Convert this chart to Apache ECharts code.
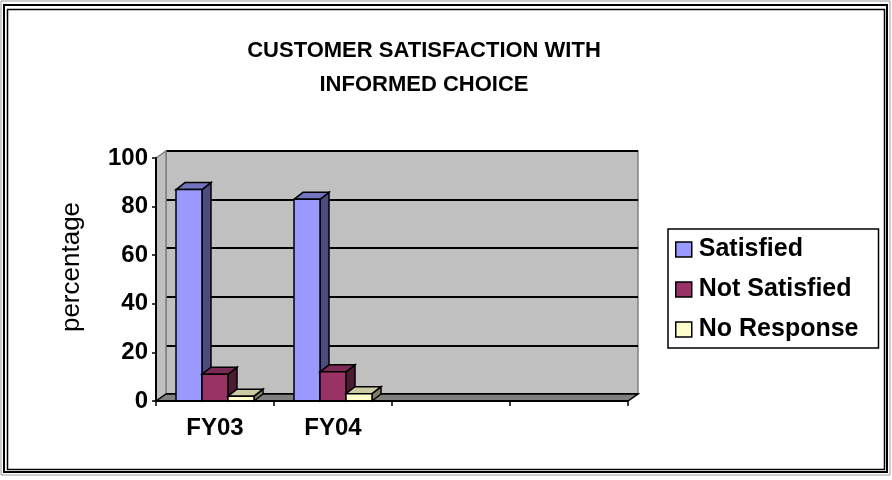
<!DOCTYPE html>
<html>
<head>
<meta charset="utf-8">
<script src="https://cdn.jsdelivr.net/npm/echarts@6/dist/echarts.min.js"></script>
<style>
  html, body { margin: 0; padding: 0; background: #fff; }
  #chart { width: 892px; height: 480px; }
</style>
</head>
<body>
<div id="chart"></div>
<script>
// 数据
var categories = ['FY03', 'FY04', '', ''];
var seriesNames = ['Satisfied', 'Not Satisfied', 'No Response'];
var satisfied = [87, 83];
var notSatisfied = [11, 12];
var noResponse = [2, 3];
var yTicks = [0, 20, 40, 60, 80, 100];

// 颜色：正面 / 顶面 / 侧面
var faceColors = [
  ['#9999FF', '#7373BF', '#4C4C7F'],
  ['#993366', '#7A2952', '#4D1A33'],
  ['#FFFFCC', '#CCCCA3', '#808066']
];

// 前平面和后墙的位置
var front = { left: 156, top: 158, right: 628, bottom: 401 };
var depth = { dx: 10, dy: -7 };
var barDepth = { dx: 9, dy: -7 };
var barFrac = 26 / 118;
var fontFamily = 'Arial, "Liberation Sans", sans-serif';

var chart = echarts.init(document.getElementById('chart'));

function toPairs(arr) {
  return arr.map(function (v, i) { return [i, v]; });
}

// 画伪3D柱子
function renderBar(params, api) {
  var s = params.seriesIndex;
  var cat = api.value(0);
  var val = api.value(1);
  var base = api.coord([cat, 0]);
  var top = api.coord([cat, val]);
  var band = api.size([1, 0])[0];
  var bw = band * barFrac;
  var x0 = base[0] - 1.5 * bw + s * bw;
  var x1 = x0 + bw;
  var dx = barDepth.dx, dy = barDepth.dy;
  var c = faceColors[s];
  var line = { stroke: '#000', lineWidth: 1.5 };
  return {
    type: 'group',
    children: [
      { type: 'polygon', shape: { points: [[x1, top[1]], [x1 + dx, top[1] + dy], [x1 + dx, base[1] + dy], [x1, base[1]]] },
        style: Object.assign({ fill: c[2] }, line) },
      { type: 'polygon', shape: { points: [[x0, top[1]], [x0 + dx, top[1] + dy], [x1 + dx, top[1] + dy], [x1, top[1]]] },
        style: Object.assign({ fill: c[1] }, line) },
      { type: 'rect', shape: { x: x0, y: top[1], width: bw, height: base[1] - top[1] },
        style: Object.assign({ fill: c[0] }, line) }
    ]
  };
}

var labelFont = { fontFamily: fontFamily, fontWeight: 'bold', color: '#000' };

var option = {
  animation: false,
  backgroundColor: '#fff',
  title: {
    text: 'CUSTOMER SATISFACTION WITH\nINFORMED CHOICE',
    left: 419,
    textAlign: 'center',
    top: 29,
    textStyle: Object.assign({ fontSize: 22, lineHeight: 34 }, labelFont)
  },
  legend: {
    orient: 'vertical',
    left: 668,
    top: 229,
    padding: [8, 20, 6, 7],
    itemGap: 15,
    itemWidth: 16,
    itemHeight: 15,
    icon: 'rect',
    borderColor: '#000',
    borderWidth: 1.5,
    data: seriesNames,
    itemStyle: { borderColor: '#000', borderWidth: 1.5 },
    textStyle: Object.assign({ fontSize: 25, padding: [0, 0, 0, 2] }, labelFont)
  },
  grid: [
    // 前平面（坐标轴）
    { left: front.left, top: front.top, right: 892 - front.right, bottom: 480 - front.bottom },
    // 后墙
    { left: front.left + depth.dx, top: front.top + depth.dy, right: 892 - front.right - depth.dx,
      bottom: 480 - front.bottom - depth.dy, show: true, backgroundColor: '#C0C0C0',
      borderColor: '#808080', borderWidth: 1.5 }
  ],
  xAxis: [
    {
      type: 'category', gridIndex: 0, data: categories, z: 5,
      axisLine: { lineStyle: { color: '#000', width: 2 } },
      axisTick: { show: true, length: 5, interval: 0, lineStyle: { color: '#000', width: 1.5 } },
      axisLabel: Object.assign({ fontSize: 24, margin: 15, interval: 0 }, labelFont),
      splitLine: { show: false }
    },
    { type: 'category', gridIndex: 1, data: categories, show: false }
  ],
  yAxis: [
    {
      type: 'value', gridIndex: 0, min: 0, max: 100, interval: 20, z: 5,
      axisLine: { show: true, lineStyle: { color: '#000', width: 2 } },
      axisTick: { show: true, length: 4, lineStyle: { color: '#000', width: 1.5 } },
      axisLabel: Object.assign({ fontSize: 24, margin: 8 }, labelFont),
      splitLine: { show: false }
    },
    {
      type: 'value', gridIndex: 1, min: 0, max: 100, interval: 20,
      axisLine: { show: false }, axisTick: { show: false }, axisLabel: { show: false },
      splitLine: { show: true, lineStyle: { color: '#000', width: 2 } }
    }
  ],
  graphic: [
    // 外框
    { type: 'rect', z: 0, shape: { x: 1, y: 1, width: 889, height: 474 }, style: { fill: 'none', stroke: '#999', lineWidth: 1 } },
    { type: 'rect', z: 0, shape: { x: 4, y: 5, width: 883, height: 467 }, style: { fill: 'none', stroke: '#000', lineWidth: 2 } },
    { type: 'rect', z: 0, shape: { x: 7.5, y: 9.5, width: 877, height: 460 }, style: { fill: 'none', stroke: '#000', lineWidth: 1.5 } },
    // y轴名称
    { type: 'text', z: 5, x: 72, y: 267, rotation: Math.PI / 2,
      style: { text: 'percentage', fontSize: 26, fontFamily: fontFamily, fill: '#000', align: 'center', verticalAlign: 'middle' } },
    // 侧墙
    { type: 'polygon', z: 1, shape: { points: [
        [front.left, front.top], [front.left + depth.dx, front.top + depth.dy],
        [front.left + depth.dx, front.bottom + depth.dy], [front.left, front.bottom]] },
      style: { fill: '#C0C0C0', stroke: '#808080', lineWidth: 1.5 } },
    // 地板
    { type: 'polygon', z: 1, shape: { points: [
        [front.left, front.bottom], [front.left + depth.dx, front.bottom + depth.dy],
        [front.right + depth.dx, front.bottom + depth.dy], [front.right, front.bottom]] },
      style: { fill: '#808080', stroke: '#000', lineWidth: 1.5 } }
  ],
  series: [
    { name: seriesNames[0], type: 'custom', xAxisIndex: 0, yAxisIndex: 0, z: 3, renderItem: renderBar,
      itemStyle: { color: faceColors[0][0] }, encode: { x: 0, y: 1 }, data: toPairs(satisfied) },
    { name: seriesNames[1], type: 'custom', xAxisIndex: 0, yAxisIndex: 0, z: 3, renderItem: renderBar,
      itemStyle: { color: faceColors[1][0] }, encode: { x: 0, y: 1 }, data: toPairs(notSatisfied) },
    { name: seriesNames[2], type: 'custom', xAxisIndex: 0, yAxisIndex: 0, z: 3, renderItem: renderBar,
      itemStyle: { color: faceColors[2][0] }, encode: { x: 0, y: 1 }, data: toPairs(noResponse) }
  ]
};

chart.setOption(option);
</script>
</body>
</html>
